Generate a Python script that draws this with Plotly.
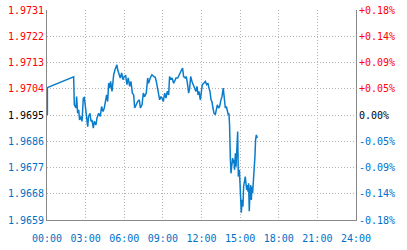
import plotly.graph_objects as go

# time in hours (00:00 = 0) and price
hours = [0.03, 0.03, 2.07, 2.12, 2.25, 2.30, 2.38, 2.46, 2.53, 2.64, 2.72, 2.82, 2.90, 3.03, 3.16, 3.23, 3.34,
         3.42, 3.49, 3.60, 3.67, 3.80, 3.88, 4.01, 4.14, 4.24, 4.35, 4.45, 4.55, 4.63, 4.71, 4.79, 4.86, 4.94,
         5.05, 5.12, 5.18, 5.28, 5.36, 5.43, 5.49, 5.59, 5.69, 5.80, 5.90, 6.00, 6.11, 6.21, 6.31, 6.42, 6.52,
         6.63, 6.73, 6.81, 6.91, 7.04, 7.17, 7.25, 7.38, 7.48, 7.58, 7.71, 7.82, 7.89, 8.02, 8.15, 8.28, 8.41,
         8.49, 8.59, 8.67, 8.75, 8.85, 8.93, 9.03, 9.14, 9.24, 9.34, 9.45, 9.52, 9.63, 9.71, 9.84, 9.91, 10.02,
         10.15, 10.25, 10.35, 10.46, 10.53, 10.61, 10.74, 10.82, 10.92, 11.00, 11.08, 11.16, 11.26, 11.39,
         11.47, 11.57, 11.65, 11.73, 11.80, 11.91, 11.98, 12.06, 12.17, 12.30, 12.40, 12.50, 12.58, 12.66,
         12.74, 12.81, 12.89, 12.97, 13.07, 13.15, 13.23, 13.33, 13.41, 13.51, 13.59, 13.69, 13.77, 13.85,
         13.93, 14.00, 14.08, 14.13, 14.18, 14.24, 14.29, 14.34, 14.42, 14.47, 14.52, 14.57, 14.63, 14.68,
         14.75, 14.81, 14.86, 14.94, 14.99, 15.04, 15.09, 15.17, 15.22, 15.27, 15.35, 15.40, 15.45, 15.51,
         15.56, 15.61, 15.66, 15.71, 15.76, 15.82, 15.87, 15.92, 15.97, 16.05, 16.10, 16.15, 16.20, 16.26,
         16.33]
prices = [1.96950, 1.97044, 1.97081, 1.96985, 1.96974, 1.97013, 1.96956, 1.96968, 1.96933, 1.96945, 1.96928,
          1.97008, 1.97010, 1.96951, 1.96910, 1.96945, 1.96956, 1.96928, 1.96933, 1.96905, 1.96928, 1.96916,
          1.96939, 1.96956, 1.96945, 1.96979, 1.96962, 1.96974, 1.97002, 1.97019, 1.96996, 1.97059, 1.97042,
          1.97065, 1.97031, 1.97077, 1.97088, 1.97105, 1.97116, 1.97122, 1.97105, 1.97088, 1.97077, 1.97094,
          1.97071, 1.97082, 1.97085, 1.97054, 1.97077, 1.97048, 1.97065, 1.97025, 1.97019, 1.96974, 1.96985,
          1.96996, 1.97002, 1.96974, 1.96985, 1.97025, 1.97013, 1.97025, 1.97077, 1.97059, 1.97077, 1.97088,
          1.97082, 1.97079, 1.97065, 1.97042, 1.97019, 1.97002, 1.97013, 1.97008, 1.96996, 1.97025, 1.97008,
          1.97031, 1.97019, 1.97082, 1.97071, 1.97077, 1.97059, 1.97065, 1.97077, 1.97077, 1.97088, 1.97094,
          1.97105, 1.97111, 1.97082, 1.97077, 1.97082, 1.97054, 1.97025, 1.97042, 1.97082, 1.97065, 1.97054,
          1.97042, 1.97031, 1.97048, 1.97019, 1.97031, 1.97002, 1.97025, 1.97054, 1.97059, 1.97065, 1.97054,
          1.97059, 1.97042, 1.97031, 1.97002, 1.96996, 1.96974, 1.96956, 1.96951, 1.96968, 1.96985, 1.96974,
          1.96979, 1.97002, 1.97013, 1.97042, 1.97008, 1.96974, 1.96979, 1.96968, 1.96951, 1.96956, 1.96916,
          1.96802, 1.96750, 1.96773, 1.96802, 1.96785, 1.96796, 1.96762, 1.96819, 1.96773, 1.96865, 1.96893,
          1.96739, 1.96762, 1.96716, 1.96647, 1.96615, 1.96659, 1.96636, 1.96704, 1.96727, 1.96739, 1.96716,
          1.96693, 1.96710, 1.96687, 1.96716, 1.96620, 1.96682, 1.96710, 1.96659, 1.96704, 1.96682, 1.96733,
          1.96739, 1.96807, 1.96865, 1.96882, 1.96871]

x_tick_vals = [0, 3, 6, 9, 12, 15, 18, 21, 24]
x_tick_text = ["00:00", "03:00", "06:00", "09:00", "12:00", "15:00", "18:00", "21:00", "24:00"]
y_tick_vals = [1.9659, 1.9668, 1.9677, 1.9686, 1.9695, 1.9704, 1.9713, 1.9722, 1.9731]
y_tick_text = ["1.9659", "1.9668", "1.9677", "1.9686", "1.9695", "1.9704", "1.9713", "1.9722", "1.9731"]
pct_tick_text = ["-0.18%", "-0.14%", "-0.09%", "-0.05%", "0.00%", "+0.05%", "+0.09%", "+0.14%", "+0.18%"]
prev_close = 1.9695

RED = "#ff0000"
BLUE = "#0070c8"
BLACK = "#000000"


def colored(vals, texts):
    out = []
    for v, t in zip(vals, texts):
        if abs(v - prev_close) < 1e-9:
            c = BLACK
        elif v > prev_close:
            c = RED
        else:
            c = BLUE
        out.append(f'<span style="color:{c}">{t}</span>')
    return out


fig = go.Figure()
fig.add_trace(go.Scatter(x=hours, y=prices, mode="lines",
                         line=dict(color="#0a7ccc", width=1.5), showlegend=False, hoverinfo="skip"))
fig.add_trace(go.Scatter(x=[0, 24], y=[y_tick_vals[0], y_tick_vals[-1]], yaxis="y2", mode="lines",
                         line=dict(width=0), opacity=0, showlegend=False, hoverinfo="skip"))

font = dict(family="DejaVu Sans Mono", size=10, color=BLUE)
grid = dict(showgrid=True, gridcolor="#b4b4b4", griddash="1px,2px", gridwidth=1, zeroline=False)

fig.update_layout(
    width=407, height=250,
    margin=dict(l=47, r=51, t=10, b=30),
    paper_bgcolor="white", plot_bgcolor="white",
    xaxis=dict(range=[0, 24], tickmode="array", tickvals=x_tick_vals, ticktext=x_tick_text,
               tickfont=font, showline=True, linecolor="#888888", linewidth=1, ticks="", ticklen=0,
               ticklabelstandoff=9, automargin=False, layer="below traces", **grid),
    yaxis=dict(range=[y_tick_vals[0], y_tick_vals[-1]], tickmode="array", tickvals=y_tick_vals,
               ticktext=colored(y_tick_vals, y_tick_text), tickfont=font, showline=True, automargin=False,
               linecolor="#888888", linewidth=1, ticks="", ticklen=0, layer="below traces", **grid),
    yaxis2=dict(range=[y_tick_vals[0], y_tick_vals[-1]], overlaying="y", side="right", tickmode="array",
                tickvals=y_tick_vals, ticktext=colored(y_tick_vals, pct_tick_text), tickfont=font,
                automargin=False, showline=True, linecolor="#888888", linewidth=1, ticks="",
                showgrid=False, zeroline=False),
)

fig.write_html("out.html")
